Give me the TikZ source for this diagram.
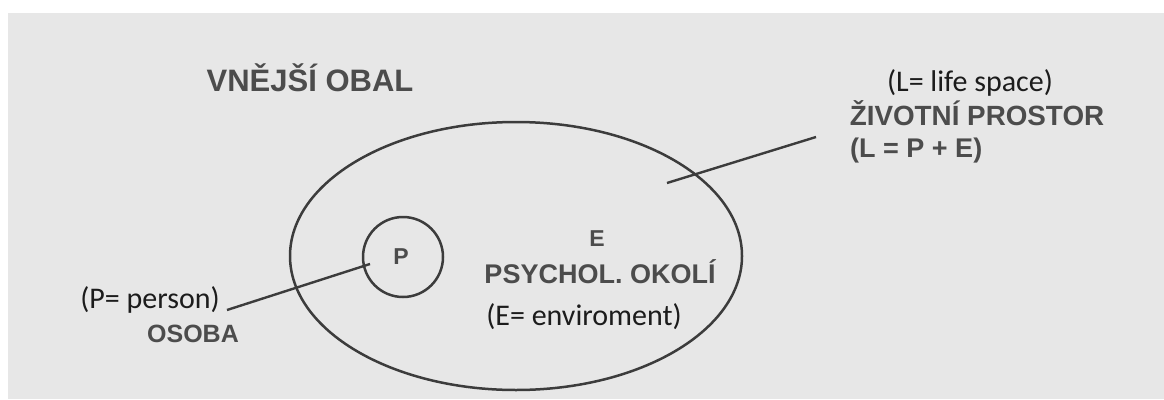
\documentclass[tikz,border=0pt]{standalone}
\usepackage{fontspec}
\setmainfont{Carlito}
\newfontfamily\helv{Liberation Sans}
\usepackage{tikz}
\usetikzlibrary{shapes.geometric}
\definecolor{pagegray}{HTML}{E7E7E7}
\definecolor{inkgray}{HTML}{4C4C4C}
\definecolor{inkdark}{HTML}{1C1C1C}
\definecolor{linegray}{HTML}{3C3C3C}
\tikzset{
  bigcap/.style={font=\helv\bfseries\fontsize{27}{32}\selectfont, text=inkgray, anchor=base, inner sep=0pt},
  smallnote/.style={font=\fontsize{30}{36}\selectfont, text=inkdark, anchor=base, inner sep=0pt},
  leader/.style={draw=linegray, line width=2.5pt}
}
\begin{document}
\begin{tikzpicture}[x=1pt,y=-1pt]
			% page, white margin at top and left
			\fill[white] (0,0) rectangle (1164,399);
			\fill[pagegray] (8,13) rectangle (1164,399);
			\useasboundingbox (0,0) rectangle (1164,399);
			
			\node[ellipse, leader, minimum width=452pt, minimum height=268pt, inner sep=0pt] (space) at (516,256) {};
			\node[circle, leader, minimum size=80pt, inner sep=0pt] (person) at (403,257) {};
			
			\node[bigcap, font=\helv\bfseries\fontsize{31}{36}\selectfont] (outer) at (310,91) {VNĚJŠÍ OBAL};
			\node[smallnote] (lspace) at (970,91) {(L= life space)};
			\node[bigcap, font=\helv\bfseries\fontsize{27.8}{32}\selectfont] (zivot) at (977,125) {ŽIVOTNÍ PROSTOR};
			\node[bigcap, anchor=base west] (lpe) at (850,157) {(L = P + E)};
			
			\node[bigcap, font=\helv\bfseries\fontsize{23}{28}\selectfont] (pletter) at (401,264) {P};
			\node[bigcap, font=\helv\bfseries\fontsize{23}{28}\selectfont] (eletter) at (597,246) {E};
			\node[bigcap] (okoli) at (600,283) {PSYCHOL. OKOLÍ};
			\node[smallnote] (env) at (584,325) {(E= enviroment)};
			
			\node[smallnote] (psn) at (150,308) {(P= person)};
			\node[bigcap, font=\helv\bfseries\fontsize{25}{30}\selectfont] (osoba) at (193,342) {OSOBA};
			
			% leaders
			\coordinate (pin) at (370,264);
			\coordinate (pend) at (227,310);
			\coordinate (lin) at (667,183);
			\coordinate (lend) at (816,137);
			\draw[leader, line width=2.4pt] (pin) -- (pend);
			\draw[leader, line width=2.4pt] (lin) -- (lend);
			
		\end{tikzpicture}
\end{document}
